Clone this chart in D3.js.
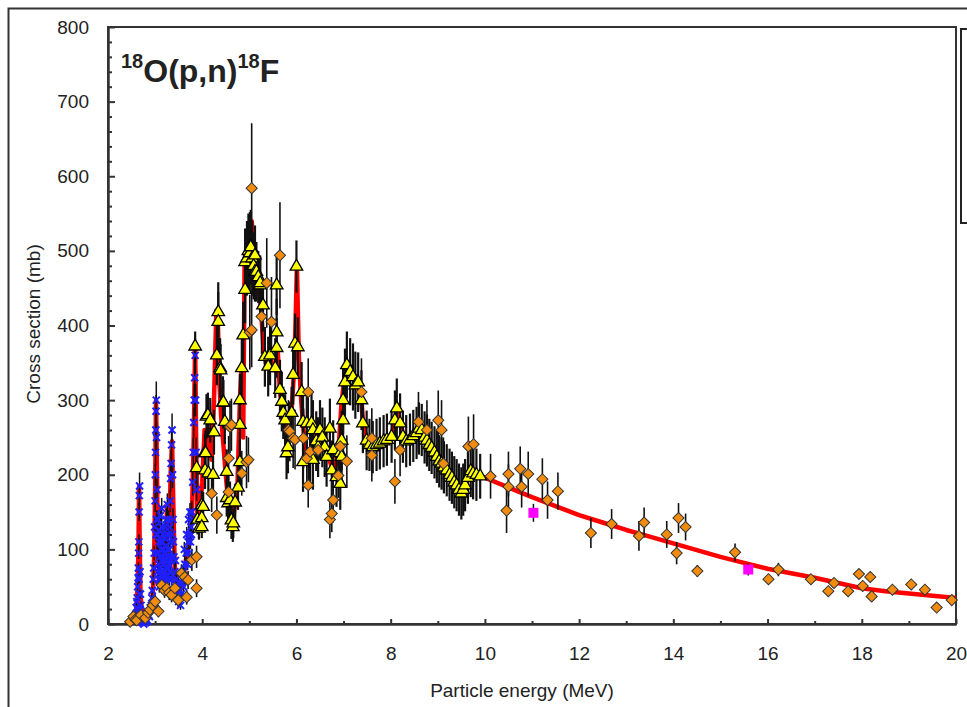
<!DOCTYPE html>
<html>
<head>
<meta charset="utf-8">
<script src="https://cdn.jsdelivr.net/npm/d3@7"></script>
<style>
  body { margin: 0; background: #fff; }
  svg text { font-family: "Liberation Sans", Arial, sans-serif; fill: #222; }
</style>
</head>
<body>
<svg id="chart" width="967" height="707"></svg>
<script>
// axis ticks
var xTicks = [2, 4, 6, 8, 10, 12, 14, 16, 18, 20];
var xMinor = [3, 5, 7, 9, 11, 13, 15, 17, 19];
var yTicks = [0, 100, 200, 300, 400, 500, 600, 700, 800];
var yMinor = [20, 40, 60, 80, 120, 140, 160, 180, 220, 240, 260, 280, 320, 340, 360, 380,
              420, 440, 460, 480, 520, 540, 560, 580, 620, 640, 660, 680, 720, 740, 760, 780];

// evaluated curve [E, sigma]
var redCurve = [[2.45,0],[2.55,8],[2.6,20],[2.63,50],[2.65,120],[2.66,185],[2.67,120],[2.69,40],[2.72,15],
  [2.8,5],[2.9,15],[2.95,40],[2.98,90],[3.0,180],[3.02,300],[3.04,200],[3.06,100],[3.1,80],[3.15,120],
  [3.2,90],[3.26,160],[3.3,120],[3.33,200],[3.36,245],[3.39,150],[3.42,70],[3.5,45],[3.58,50],[3.65,85],
  [3.72,110],[3.78,140],[3.82,250],[3.85,375],[3.87,250],[3.9,140],[3.95,150],[4.0,190],[4.05,260],
  [4.1,230],[4.15,260],[4.2,220],[4.25,300],[4.3,420],[4.33,410],[4.36,330],[4.4,280],[4.45,240],
  [4.5,200],[4.55,165],[4.6,140],[4.65,135],[4.7,165],[4.75,190],[4.8,300],[4.83,340],[4.87,250],
  [4.9,490],[4.95,500],[5.0,530],[5.05,540],[5.1,500],[5.15,470],[5.2,450],[5.25,420],[5.3,370],
  [5.35,350],[5.4,345],[5.45,360],[5.5,340],[5.55,340],[5.6,370],[5.65,310],[5.7,290],[5.75,270],
  [5.8,235],[5.85,260],[5.9,290],[5.95,340],[5.98,400],[6.01,480],[6.05,360],[6.1,300],[6.15,260],
  [6.2,220],[6.3,230],[6.4,255],[6.5,260],[6.6,240],[6.7,220],[6.8,200],[6.9,240],[6.95,290],
  [7.0,320],[7.05,345],[7.1,340],[7.2,330],[7.3,320],[7.38,300],[7.42,265],[7.5,245],[7.6,237],
  [7.8,242],[7.95,248],[8.05,260],[8.12,285],[8.2,268],[8.3,250],[8.45,248],[8.6,258],[8.7,255],
  [8.8,245],[8.9,235],[9.0,224],[9.1,214],[9.2,205],[9.3,195],[9.4,185],[9.5,175],[9.58,186],
  [9.65,196],[9.75,202],[9.9,198],[10,196],[10.5,183],[11,170],[11.5,158],[12,146],[12.5,136],
  [13,126],[13.5,117],[14,108],[14.5,99],[15,90],[15.5,82],[16,74],[16.5,68],[17,62],[17.5,55],
  [18,48],[18.5,44],[19,41],[19.5,38],[20,35]];

// blue crosses [E, sigma, err]
var blueData = [[2.55,5,3],[2.58,12,4],[2.6,22,5],[2.61,30,5],[2.62,35,5],[2.63,50,6],[2.63,20,4],
  [2.64,62,6],[2.645,75,8],[2.65,95,8],[2.655,110,10],[2.66,150,12],[2.66,60,6],[2.665,172,15],
  [2.67,185,18],[2.67,40,5],[2.68,70,8],[2.68,20,4],[2.69,40,6],[2.7,25,5],[2.7,5,3],[2.72,15,4],
  [2.73,2,2],[2.75,8,3],[2.76,0,2],[2.78,5,3],[2.8,2,2],[2.82,6,3],[2.84,4,2],[2.86,12,4],[2.88,10,3],
  [2.9,22,5],[2.92,25,4],[2.93,35,6],[2.94,45,5],[2.96,60,8],[2.97,75,8],[2.98,95,10],[2.99,130,12],
  [3.0,165,15],[3.005,200,15],[3.01,230,18],[3.015,260,20],[3.02,285,22],[3.02,120,10],[3.025,300,25],
  [3.03,250,20],[3.03,140,12],[3.04,180,15],[3.04,95,10],[3.05,120,12],[3.05,70,8],[3.06,95,10],
  [3.06,140,12],[3.07,60,8],[3.08,80,10],[3.08,110,10],[3.09,50,8],[3.09,125,12],[3.1,90,10],
  [3.1,60,8],[3.11,75,8],[3.11,145,12],[3.12,110,12],[3.12,70,8],[3.13,65,8],[3.13,100,10],
  [3.14,130,12],[3.14,155,14],[3.15,85,10],[3.15,60,8],[3.16,110,12],[3.16,90,10],[3.17,55,8],
  [3.17,120,12],[3.18,80,10],[3.18,100,10],[3.19,95,10],[3.19,65,8],[3.2,70,10],[3.2,115,12],
  [3.21,60,8],[3.21,85,10],[3.22,95,12],[3.22,130,12],[3.23,75,8],[3.23,105,10],[3.24,140,15],
  [3.24,60,8],[3.25,90,10],[3.25,120,12],[3.26,160,15],[3.26,85,10],[3.27,65,8],[3.27,100,10],
  [3.28,120,12],[3.28,75,8],[3.29,80,10],[3.29,140,12],[3.3,100,12],[3.3,60,8],[3.31,130,15],
  [3.31,90,10],[3.32,165,15],[3.32,70,8],[3.33,195,18],[3.33,110,10],[3.34,215,18],[3.34,85,8],
  [3.35,240,20],[3.35,60,8],[3.36,260,22],[3.36,120,10],[3.37,200,18],[3.37,90,8],[3.38,140,15],
  [3.38,65,8],[3.39,110,10],[3.4,90,10],[3.41,50,8],[3.42,70,10],[3.43,85,8],[3.45,60,8],[3.46,40,6],
  [3.48,50,8],[3.5,55,8],[3.5,30,6],[3.53,45,8],[3.54,25,6],[3.56,40,8],[3.58,55,8],[3.6,70,10],
  [3.6,50,8],[3.62,100,10],[3.63,80,10],[3.65,60,8],[3.66,95,10],[3.67,120,10],[3.69,80,8],
  [3.7,110,12],[3.71,140,12],[3.72,95,10],[3.73,120,12],[3.74,150,12],[3.75,110,10],[3.76,130,12],
  [3.77,120,12],[3.78,150,15],[3.79,140,12],[3.8,190,18],[3.81,230,20],[3.82,270,20],[3.83,300,22],
  [3.84,330,25],[3.85,360,25],[3.86,300,22],[3.87,230,20],[3.88,180,15]];

// yellow triangles [E, sigma, err]
var yellowData = [[3.85,372,20],[3.88,209,25],[3.9,140,20],[3.93,128,15],[3.99,159,20],[3.99,142,20],
  [3.99,130,15],[4.02,157,20],[4.06,230,25],[4.06,206,25],[4.07,229,30],[4.09,278,30],[4.12,280,30],
  [4.13,202,25],[4.17,273,30],[4.23,200,25],[4.25,257,30],[4.31,360,40],[4.34,418,40],[4.34,405,40],
  [4.38,343,40],[4.39,340,35],[4.44,297,35],[4.45,297,30],[4.48,271,30],[4.52,204,30],[4.52,169,25],
  [4.55,162,25],[4.59,166,25],[4.62,139,25],[4.65,130,20],[4.66,135,20],[4.7,163,25],[4.76,183,30],
  [4.8,217,30],[4.8,267,35],[4.8,300,35],[4.84,343,40],[4.87,387,45],[4.91,448,45],[4.91,485,45],
  [4.95,490,50],[4.98,500,50],[5.01,497,55],[5.03,505,50],[5.06,490,50],[5.09,480,45],[5.12,494,40],
  [5.12,472,40],[5.15,472,40],[5.19,465,35],[5.23,454,40],[5.23,457,35],[5.29,427,35],[5.33,358,40],
  [5.4,345,40],[5.44,360,40],[5.55,343,40],[5.58,370,40],[5.58,391,45],[5.58,454,40],[5.65,314,40],
  [5.69,298,40],[5.72,283,35],[5.76,273,35],[5.79,229,35],[5.82,237,35],[5.9,283,35],[5.93,334,40],
  [5.97,376,40],[6.0,479,35],[6.03,371,40],[6.11,311,40],[6.14,271,40],[6.14,217,40],[6.22,269,40],
  [6.29,224,40],[6.32,269,40],[6.35,220,40],[6.35,260,40],[6.42,245,40],[6.46,237,40],[6.5,260,40],
  [6.55,250,40],[6.6,237,40],[6.64,224,40],[6.71,262,40],[6.75,206,40],[6.78,233,40],[6.85,197,40],
  [6.93,188,35],[6.93,229,40],[6.96,224,40],[6.96,246,40],[6.99,273,45],[6.99,300,45],[7.03,324,45],
  [7.07,347,45],[7.14,338,45],[7.2,331,45],[7.25,320,45],[7.31,324,40],[7.38,300,40],[7.41,269,40],
  [7.49,246,40],[7.55,240,35],[7.62,237,35],[7.7,240,35],[7.77,242,35],[7.85,245,35],[7.92,247,35],
  [8.02,251,35],[8.09,273,40],[8.13,289,40],[8.2,269,40],[8.26,251,35],[8.33,245,35],[8.41,247,35],
  [8.48,252,35],[8.55,256,35],[8.6,262,35],[8.66,260,35],[8.72,250,35],[8.77,246,35],[8.82,240,35],
  [8.87,236,35],[8.93,230,35],[8.98,224,35],[9.03,218,35],[9.08,215,35],[9.13,210,35],[9.19,206,35],
  [9.25,200,35],[9.3,196,35],[9.35,190,35],[9.4,186,35],[9.45,180,35],[9.5,175,35],[9.54,180,35],
  [9.58,186,35],[9.64,196,35],[9.7,205,35],[9.75,202,35],[9.82,200,35],[9.9,198,30]];

// orange diamonds [E, sigma, err]
var orangeData = [[2.47,3,3],[2.54,10,5],[2.58,6,4],[2.61,5,4],[2.7,12,5],[2.79,8,5],[2.85,15,6],
  [2.89,19,8],[2.95,25,8],[3.0,30,10],[3.07,17,8],[3.14,52,10],[3.2,45,10],[3.25,48,10],[3.3,42,10],
  [3.35,39,10],[3.42,48,10],[3.49,32,10],[3.56,68,12],[3.63,63,12],[3.67,36,10],[3.7,59,12],
  [3.78,86,15],[3.88,90,15],[3.88,48,12],[4.2,175,25],[4.31,146,25],[4.56,177,30],[4.56,222,30],
  [4.59,264,35],[4.62,267,35],[4.84,202,30],[4.94,217,35],[4.98,220,30],[5.01,391,50],[5.05,584,87],
  [5.05,394,50],[5.26,412,50],[5.37,457,60],[5.47,405,60],[5.65,494,71],[5.83,260,40],[5.86,258,40],
  [5.93,249,40],[5.97,247,40],[6.15,249,40],[6.22,222,35],[6.25,311,45],[6.25,186,30],[6.29,231,35],
  [6.46,233,35],[6.71,140,25],[6.75,148,25],[6.78,166,30],[6.89,199,30],[6.93,238,35],[7.07,218,35],
  [7.38,311,45],[7.6,249,40],[7.6,226,35],[8.09,191,30],[8.2,233,35],[8.59,271,40],[8.77,260,40],
  [9.01,273,40],[9.08,260,40],[9.12,215,35],[9.65,238,40],[9.76,241,40],[10.12,198,30],[10.46,152,30],
  [10.5,201,30],[10.5,184,30],[10.75,208,30],[10.78,184,28],[10.92,201,30],[11.22,194,28],
  [11.33,166,25],[11.55,178,25],[12.25,122,20],[12.69,134,20],[13.27,118,20],[13.38,136,20],
  [13.86,120,18],[14.07,95,15],[14.11,142,20],[14.26,130,18],[14.51,71,8],[15.31,96,12],[16.02,60,6],
  [16.23,73,9],[16.92,60,5],[17.29,44,5],[17.41,55,6],[17.71,44,5],[17.94,67,6],[18.02,51,6],
  [18.18,63,5],[18.21,37,5],[18.65,46,5],[19.05,53,5],[19.34,46,5],[19.59,22,4],[19.91,32,4]];

// magenta squares [E, sigma, err]
var magentaData = [[11.03,149,12],[15.59,73,8]];

var svg = d3.select("#chart");

var x = d3.scaleLinear().domain([2, 20]).range([108, 956]);
var y = d3.scaleLinear().domain([0, 800]).range([624, 27]);

// outer chart border
svg.append("rect")
  .attr("x", 8.5).attr("y", 8.5)
  .attr("width", 1000).attr("height", 1000)
  .attr("fill", "none").attr("stroke", "#333").attr("stroke-width", 2);

// legend box (cut off on the right)
svg.append("rect")
  .attr("x", 961).attr("y", 29)
  .attr("width", 40).attr("height", 194)
  .attr("fill", "none").attr("stroke", "#222").attr("stroke-width", 2);

// plot frame
svg.append("rect")
  .attr("x", 108).attr("y", 27)
  .attr("width", 848).attr("height", 597)
  .attr("fill", "none").attr("stroke", "#333").attr("stroke-width", 2);

// axes
var yAxis = svg.append("g").attr("transform", "translate(108,0)")
  .call(d3.axisLeft(y).tickValues(yTicks).tickSize(-7).tickSizeOuter(0).tickPadding(19));
var yAxisMinor = svg.append("g").attr("transform", "translate(108,0)")
  .call(d3.axisLeft(y).tickValues(yMinor).tickSize(-4).tickSizeOuter(0).tickFormat(""));
var xAxis = svg.append("g").attr("transform", "translate(0,624)")
  .call(d3.axisBottom(x).tickValues(xTicks).tickSize(-5).tickSizeOuter(0).tickPadding(23));
var xAxisMinor = svg.append("g").attr("transform", "translate(0,624)")
  .call(d3.axisBottom(x).tickValues(xMinor).tickSize(-3).tickSizeOuter(0).tickFormat(""));

[yAxis, yAxisMinor, xAxis, xAxisMinor].forEach(function(g) {
  g.select(".domain").attr("stroke", "#333").attr("stroke-width", 2);
  g.selectAll(".tick line").attr("stroke", "#333").attr("stroke-width", 2);
  g.selectAll(".tick text").attr("font-size", 19).attr("fill", "#222")
    .attr("font-family", "Liberation Sans, Arial, sans-serif");
});

// axis titles
svg.append("text")
  .attr("x", 522).attr("y", 697)
  .attr("text-anchor", "middle").attr("font-size", 19)
  .text("Particle energy (MeV)");
svg.append("text")
  .attr("transform", "translate(40,324) rotate(-90)")
  .attr("text-anchor", "middle").attr("font-size", 19)
  .text("Cross section (mb)");

// reaction label
var title = svg.append("text").attr("x", 121).attr("y", 82)
  .attr("font-weight", "bold").attr("fill", "#000");
title.append("tspan").attr("font-size", 20).attr("dy", -14).text("18");
title.append("tspan").attr("font-size", 32).attr("dy", 14).text("O(p,n)");
title.append("tspan").attr("font-size", 20).attr("dy", -14).text("18");
title.append("tspan").attr("font-size", 32).attr("dy", 14).text("F");

// red evaluated curve
var line = d3.line().x(function(d) { return x(d[0]); }).y(function(d) { return y(d[1]); });
svg.append("path")
  .datum(redCurve)
  .attr("d", line)
  .attr("fill", "none")
  .attr("stroke", "#ff0000")
  .attr("stroke-width", 4.5)
  .attr("stroke-linejoin", "round");

// error bars
function errorBars(data, width) {
  svg.append("g").selectAll("line")
    .data(data)
    .enter()
    .append("line")
    .attr("x1", function(d) { return x(d[0]); })
    .attr("x2", function(d) { return x(d[0]); })
    .attr("y1", function(d) { return y(d[1] - d[2]); })
    .attr("y2", function(d) { return y(d[1] + d[2]); })
    .attr("stroke", "#111")
    .attr("stroke-width", width);
}
errorBars(blueData, 1.5);
errorBars(yellowData, 2.2);
errorBars(orangeData, 1.6);
errorBars(magentaData, 1.5);

// blue crosses
svg.append("g").selectAll("path")
  .data(blueData)
  .enter()
  .append("path")
  .attr("transform", function(d) { return "translate(" + x(d[0]) + "," + y(d[1]) + ")"; })
  .attr("d", "M-3.5,-3.5L3.5,3.5M-3.5,3.5L3.5,-3.5")
  .attr("stroke", "#1f1fff")
  .attr("stroke-width", 2)
  .attr("fill", "none");

// yellow triangles
svg.append("g").selectAll("path")
  .data(yellowData)
  .enter()
  .append("path")
  .attr("transform", function(d) { return "translate(" + x(d[0]) + "," + y(d[1]) + ")"; })
  .attr("d", d3.symbol().type(d3.symbolTriangle).size(68))
  .attr("fill", "#ffff00")
  .attr("stroke", "#000")
  .attr("stroke-width", 1.3);

// orange diamonds
svg.append("g").selectAll("path")
  .data(orangeData)
  .enter()
  .append("path")
  .attr("transform", function(d) { return "translate(" + x(d[0]) + "," + y(d[1]) + ") rotate(45)"; })
  .attr("d", d3.symbol().type(d3.symbolSquare).size(62))
  .attr("fill", "#f28c0f")
  .attr("stroke", "#333")
  .attr("stroke-width", 1);

// magenta squares
svg.append("g").selectAll("rect")
  .data(magentaData)
  .enter()
  .append("rect")
  .attr("x", function(d) { return x(d[0]) - 5; })
  .attr("y", function(d) { return y(d[1]) - 5; })
  .attr("width", 10)
  .attr("height", 10)
  .attr("fill", "#ff00ff");
</script>
</body>
</html>
